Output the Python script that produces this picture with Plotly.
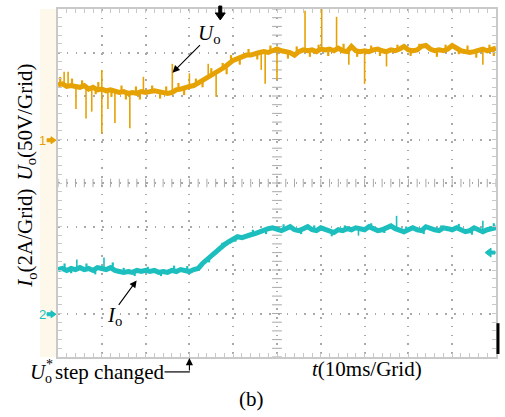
import plotly.graph_objects as go

# ---------------- data ----------------
t_ms = list(range(0, 101))  # time, ms (10 ms / grid)

uo_v = [63, 64, 61, 62, 61, 60, 62, 58, 60, 57, 58, 56, 57, 55, 54, 55, 53, 54, 53, 55,
        54, 55, 56, 55, 54, 53, 54, 57, 58, 60, 61, 62, 65, 68, 71, 73, 76, 79, 83, 87,
        91, 93, 95, 97, 97, 99, 100, 101, 100, 102, 104, 102, 101, 100, 97, 101, 103, 102, 103, 101,
        104, 103, 104, 102, 105, 102, 101, 107, 102, 101, 102, 101, 103, 104, 102, 101, 103, 102, 104, 107,
        103, 102, 103, 107, 108, 104, 102, 103, 102, 104, 108, 105, 102, 101, 100, 101, 103, 104, 102, 103,
        105]

io_a = [2.02, 2.07, 1.98, 2.07, 2.02, 2.11, 2.02, 2.07, 1.98, 2.11, 2.07, 2.02, 2.11, 1.98, 1.93, 1.89,
        1.93, 1.89, 1.98, 1.93, 1.98, 1.93, 1.98, 1.89, 1.93, 1.89, 1.98, 1.93, 2.02, 1.98, 1.93, 2.02,
        2.07, 2.30, 2.48, 2.62, 2.80, 2.98, 3.17, 3.30, 3.44, 3.53, 3.49, 3.58, 3.62, 3.67, 3.76, 3.81,
        3.90, 3.94, 3.85, 3.81, 3.90, 3.99, 3.85, 3.81, 3.90, 3.99, 3.85, 3.81, 3.94, 3.85, 3.76, 3.72,
        3.85, 3.81, 3.90, 3.85, 3.94, 3.90, 3.85, 3.99, 3.90, 3.81, 3.85, 3.94, 4.03, 3.90, 3.81, 3.76,
        3.85, 3.94, 3.85, 3.81, 3.99, 3.90, 3.85, 3.81, 3.94, 3.90, 3.85, 3.94, 3.85, 3.76, 3.81, 3.94,
        3.85, 3.76, 3.85, 3.90, 3.94]

# large spikes on the U_o trace: time (ms), local level (V), spike tip (V)
uo_spike_t = [1.4, 2.3, 4.1, 6.4, 7.7, 10.0, 10.0, 11.4, 13.0, 16.4, 19.5, 26.1, 30.0, 34.3, 36.1,
              46.4, 47.3, 50.0, 56.4, 60.2, 63.6, 66.4, 70.0, 75.0, 97.0]
uo_spike_base = [63, 62, 61, 59, 58, 58, 58, 56, 55, 53, 55, 54, 61, 71, 75,
                 100, 101, 104, 103, 104, 102, 101, 102, 101, 104]
uo_spike_tip = [78, 78, 35, 24, 32, 80, 7, 35, 19, 13, 72, 87, 76, 87, 49,
                80, 64, 69, 148, 150, 141, 86, 64, 84, 86]

# small ripple spikes on the U_o trace
uo_rip_t = [0.5, 3.2, 5.5, 8.6, 9.2, 12.2, 14.5, 15.5, 17.8, 18.7, 21.5, 23.3, 24.7, 27.5, 28.8,
            31.5, 33.0, 35.0, 37.6, 38.5, 39.5, 41.5, 43.5, 45.5, 48.5, 52.5, 54.5, 57.5, 59.5, 61.7,
            65.2, 68.3, 71.5, 73.5, 77.5, 80.5, 82.5, 86.5, 88.5, 91.5, 93.5, 95.5, 98.5, 99.5]
uo_rip_base = [63, 62, 60, 60, 57, 57, 55, 54, 54, 53, 55, 55, 54, 57, 59,
               62, 67, 73, 80, 85, 89, 94, 97, 99, 100, 101, 99, 102, 101, 103,
               103, 102, 101, 104, 102, 103, 103, 102, 102, 105, 101, 101, 102, 103]
uo_rip_tip = [72, 70, 68, 52, 66, 49, 62, 46, 61, 46, 62, 47, 61, 65, 51,
              70, 60, 82, 88, 75, 97, 86, 104, 92, 108, 93, 107, 95, 109, 96,
              110, 95, 108, 96, 109, 96, 110, 95, 109, 98, 108, 94, 109, 96]

# spikes on the I_o trace
io_spike_t = [4.3, 10.5, 68.6, 77.3, 97.0]
io_spike_base = [2.05, 2.07, 3.90, 3.90, 3.80]
io_spike_tip = [2.48, 2.57, 3.58, 4.49, 4.26]

io_rip_t = [1.5, 3.0, 6.5, 8.5, 12.5, 15.0, 17.5, 20.5, 23.5, 26.5, 29.5, 34.5, 37.5, 40.5, 44.5,
            47.5, 51.5, 55.5, 58.5, 62.5, 65.5, 71.5, 74.5, 79.5, 83.5, 87.5, 91.5, 94.5, 99.5]
io_rip_base = [2.05, 2.07, 2.05, 2.00, 2.10, 1.89, 1.90, 1.95, 1.90, 1.95, 1.95, 2.55, 3.05, 3.48, 3.64,
               3.85, 3.85, 3.85, 3.83, 3.74, 3.85, 3.95, 3.88, 3.80, 3.85, 3.82, 3.90, 3.80, 3.90]
io_rip_tip = [2.30, 1.85, 2.30, 1.80, 2.35, 2.10, 1.72, 2.15, 1.72, 2.20, 2.18, 2.35, 3.25, 3.30, 3.85,
              3.65, 4.10, 3.65, 4.05, 3.55, 4.05, 4.15, 3.70, 4.00, 3.65, 4.05, 4.12, 3.62, 4.15]

# scales: 50 V/grid and 2 A/grid, 8 grids high, ground markers at grid 5 and grid 1
uo_range = [-250, 150]
io_range = [-2, 14]
t_range = [0, 100]

YELLOW = "#E6A203"
CYAN = "#1CBFBE"
GRID = "#A9A9A9"
FRAME = "#C9C9C9"

# ---------------- layout geometry (pixels) ----------------
W, H = 505, 417
L, R, T, B = 58, 7, 7, 60
PW, PH = W - L - R, H - T - B


def px(x):
    return (x - L) / PW


def py(y):
    return (H - B - y) / PH


def seg(ts, a, b):
    xs, ys = [], []
    for ti, ai, bi in zip(ts, a, b):
        xs += [ti, ti, None]
        ys += [ai, bi, None]
    return xs, ys


fig = go.Figure()

# centre cross with minor tick marks
cx = [t_range[0] + i * 2 for i in range(51)]
fig.add_trace(go.Scatter(x=cx, y=[-50] * len(cx), mode="markers", yaxis="y", hoverinfo="skip",
                         marker=dict(symbol="line-ns", size=6, line=dict(width=1, color=GRID))))
cy = [uo_range[0] + i * 10 for i in range(41)]
fig.add_trace(go.Scatter(x=[50] * len(cy), y=cy, mode="markers", yaxis="y", hoverinfo="skip",
                         marker=dict(symbol="line-ew", size=7, line=dict(width=1, color=GRID))))

# U_o
sx, sy = seg(uo_spike_t, uo_spike_base, uo_spike_tip)
fig.add_trace(go.Scatter(x=sx, y=sy, mode="lines", yaxis="y", line=dict(color=YELLOW, width=1.6),
                         hoverinfo="skip"))
sx, sy = seg(uo_rip_t, uo_rip_base, uo_rip_tip)
fig.add_trace(go.Scatter(x=sx, y=sy, mode="lines", yaxis="y", line=dict(color=YELLOW, width=2.2),
                         hoverinfo="skip"))
fig.add_trace(go.Scatter(x=t_ms, y=uo_v, mode="lines", yaxis="y", line=dict(color=YELLOW, width=5),
                         name="Uo"))
# I_o
sx, sy = seg(io_spike_t, io_spike_base, io_spike_tip)
fig.add_trace(go.Scatter(x=sx, y=sy, mode="lines", yaxis="y2", line=dict(color=CYAN, width=1.6),
                         hoverinfo="skip"))
sx, sy = seg(io_rip_t, io_rip_base, io_rip_tip)
fig.add_trace(go.Scatter(x=sx, y=sy, mode="lines", yaxis="y2", line=dict(color=CYAN, width=2.2),
                         hoverinfo="skip"))
fig.add_trace(go.Scatter(x=t_ms, y=io_a, mode="lines", yaxis="y2", line=dict(color=CYAN, width=5),
                         name="Io"))

axis_common = dict(showticklabels=False, zeroline=False, showline=True, linecolor=FRAME, linewidth=2,
                   mirror="allticks", ticks="inside", ticklen=4, tickcolor=FRAME, tickwidth=1,
                   showgrid=True, gridcolor=GRID, gridwidth=1.6, griddash="1.6px,7.2px")

fig.update_layout(
    width=W, height=H, margin=dict(l=L, r=R, t=T, b=B),
    paper_bgcolor="white", plot_bgcolor="white", showlegend=False,
    xaxis=dict(range=t_range, dtick=10, tick0=0,
               minor=dict(dtick=2, ticks="inside", ticklen=4, tickcolor=FRAME, showgrid=False),
               **axis_common),
    yaxis=dict(range=uo_range, dtick=50, tick0=0,
               minor=dict(dtick=10, ticks="inside", ticklen=4, tickcolor=FRAME, showgrid=False),
               **axis_common),
    yaxis2=dict(range=io_range, overlaying="y", visible=False),
)

serif = "Liberation Serif"
ann = []


def text(x, y, s, size=21, color="black", family=serif, xanchor="center", yanchor="middle", angle=0):
    ann.append(dict(x=px(x), y=py(y), xref="paper", yref="paper", text=s, showarrow=False,
                    xanchor=xanchor, yanchor=yanchor, textangle=angle,
                    font=dict(family=family, size=size, color=color)))


def arrow(hx, hy, tx, ty):
    ann.append(dict(x=px(hx), y=py(hy), xref="paper", yref="paper", text="", showarrow=True,
                    ax=tx - hx, ay=ty - hy, arrowhead=2, arrowsize=1.3, arrowwidth=1.1,
                    arrowcolor="black"))


text(26, 121, "<i>U</i><sub>o</sub>(50V/Grid)", angle=-90)
text(26, 238, "<i>I</i><sub>o</sub>(2A/Grid)", angle=-90)
text(368, 369, "<i>t</i>(10ms/Grid)")
text(252, 399, "(b)")
text(210, 32, "<i>U</i><sub>o</sub>")
text(115, 316, "<i>I</i><sub>o</sub>")
text(28, 372, "<i>U</i>", xanchor="left")
text(43, 379, "o", size=14, xanchor="left")
text(44, 365, "*", size=14, xanchor="left")
text(53, 372, "step changed", xanchor="left")
text(42, 139, "1", size=13, color=YELLOW, family="Liberation Sans")
text(42, 314, "2", size=13, color=CYAN, family="Liberation Sans")

arrow(173, 71, 202, 42)
arrow(137, 280, 118, 306)
arrow(190, 358, 190, 372)

shapes = []
# cream strip left of the screen
shapes.append(dict(type="rect", xref="paper", yref="paper", x0=px(40), x1=px(57), y0=py(357), y1=py(7),
                   fillcolor="#FDF8EA", line=dict(width=0), layer="below"))
# step-changed leader
shapes.append(dict(type="line", xref="paper", yref="paper", x0=px(165), x1=px(190.5), y0=py(372), y1=py(372),
                   line=dict(color="black", width=1.2)))


def path(pts, color):
    d = "M " + " L ".join(f"{px(a):.5f},{py(b):.5f}" for a, b in pts) + " Z"
    shapes.append(dict(type="path", xref="paper", yref="paper", path=d, fillcolor=color,
                       line=dict(color=color, width=1)))


# channel ground markers
path([(47, 137.5), (47, 140.5), (51, 140.5), (51, 142.5), (56, 139), (51, 135.5), (51, 137.5)], YELLOW)
path([(47, 312.5), (47, 315.5), (51, 315.5), (51, 317.5), (56, 314), (51, 310.5), (51, 312.5)], CYAN)
# trigger level marker (right, cyan)
path([(497, 250.5), (497, 253.5), (493, 253.5), (493, 256.5), (487, 252), (493, 247.5), (493, 250.5)], CYAN)
# trigger position marker (top, black)
path([(219.5, 4), (222.5, 4), (222.5, 11), (226, 11), (221, 18), (216, 11), (219.5, 11)], "black")
# black bar on the right
shapes.append(dict(type="rect", xref="paper", yref="paper", x0=px(498.5), x1=px(501.5), y0=py(354), y1=py(323),
                   fillcolor="black", line=dict(width=0)))

fig.update_layout(annotations=ann, shapes=shapes)

fig.write_html("out.html", config={"displayModeBar": False},
               post_script="document.body.style.margin='0px';")
